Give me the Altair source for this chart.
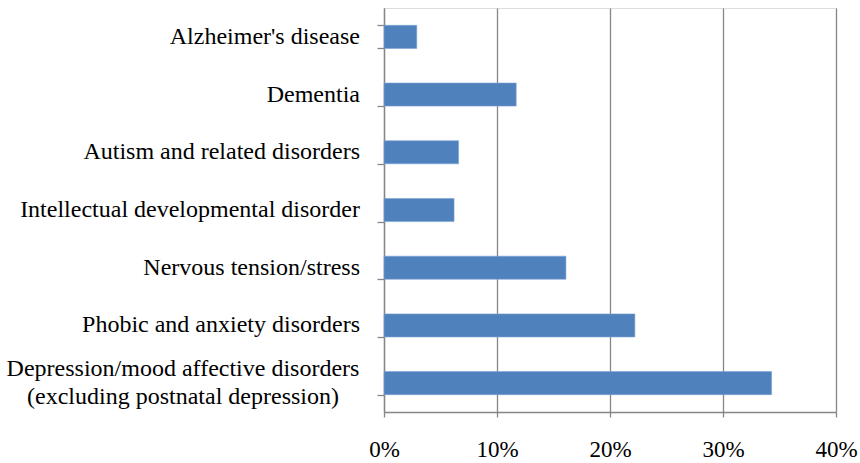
import altair as alt
import pandas as pd

# Share of respondents reporting each condition ("|" marks a line break)
conditions = [
    "Alzheimer's disease",
    "Dementia",
    "Autism and related disorders",
    "Intellectual developmental disorder",
    "Nervous tension/stress",
    "Phobic and anxiety disorders",
    "Depression/mood affective disorders|(excluding postnatal depression)",
]
shares = [0.029, 0.117, 0.066, 0.062, 0.161, 0.222, 0.343]

df = pd.DataFrame({"condition": conditions, "share": shares})

FONT = "Liberation Serif, Times New Roman, serif"
GRAY = "#868686"
LABEL_SIZE = 24
LINE_H = 28

y_enc = alt.Y(
    "condition:N",
    sort=conditions,
    scale=alt.Scale(paddingInner=0.6, paddingOuter=0.3),
    axis=alt.Axis(
        title=None,
        labels=False,
        tickBand="extent",
        domainColor=GRAY,
        domainWidth=1.3,
        tickColor=GRAY,
        tickWidth=1.3,
        tickSize=7,
    ),
)

bars = (
    alt.Chart(df)
    .mark_bar(color="#4F81BD", stroke="#7fa3d4", strokeWidth=0.6)
    .encode(
        x=alt.X(
            "share:Q",
            scale=alt.Scale(domain=[0, 0.4], nice=False),
            axis=alt.Axis(
                title=None,
                format=".0%",
                values=[0, 0.1, 0.2, 0.3, 0.4],
                grid=True,
                gridColor=GRAY,
                gridWidth=1.3,
                domainColor=GRAY,
                domainWidth=1.3,
                tickColor=GRAY,
                tickWidth=1.3,
                tickSize=5,
                labelPadding=21,
                labelFlush=False,
                labelFont=FONT,
                labelFontSize=23,
                labelColor="black",
            ),
        ),
        y=y_enc,
    )
)

# Category labels left of the axis
label_base = alt.Chart(df).encode(
    y=alt.Y("condition:N", sort=conditions),
    text="condition:N",
)

single_labels = label_base.transform_filter(
    "indexof(datum.condition, '|') < 0"
).mark_text(
    align="right", baseline="middle", font=FONT, fontSize=LABEL_SIZE, color="black"
).encode(x=alt.value(-24))

# the two-line label is centred as a block, its longest line ending at the same edge
multi_labels = label_base.transform_filter(
    "indexof(datum.condition, '|') >= 0"
).mark_text(
    align="center",
    baseline="middle",
    font=FONT,
    fontSize=LABEL_SIZE,
    color="black",
    lineBreak="|",
    lineHeight=LINE_H,
    dy=-LINE_H / 2,
).encode(x=alt.value(-201))

chart = (
    alt.layer(bars, single_labels, multi_labels)
    .properties(
        width=452,
        height=404,
        autosize=alt.AutoSizeParams(type="none"),
        padding={"left": 384, "top": 8, "right": 24, "bottom": 51},
    )
    .configure_view(stroke=None)
    .configure(background="white")
)

chart.save("out.html", embed_options={"renderer": "svg", "actions": False})
